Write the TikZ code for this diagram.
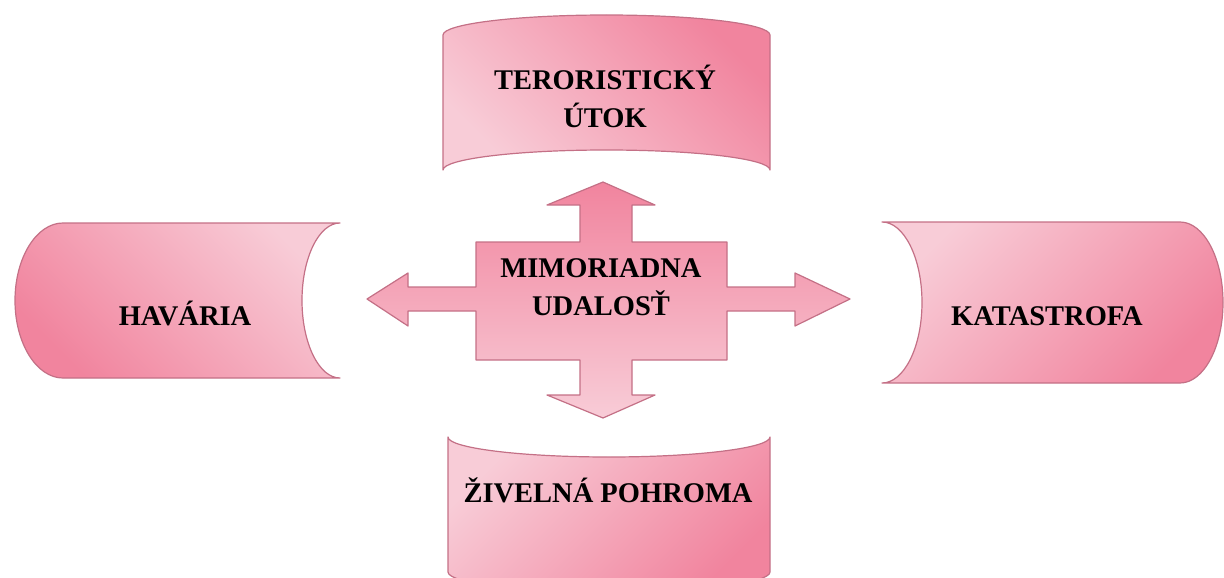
\documentclass[tikz,border=0pt]{standalone}
\usepackage{fontspec}
\setmainfont{Liberation Serif}
\definecolor{pkL}{RGB}{248,204,215}
\definecolor{pkM}{RGB}{245,170,188}
\definecolor{pkD}{RGB}{241,132,158}
\definecolor{pkEdge}{RGB}{196,112,134}
\tikzset{
  boxshape/.style={draw=pkEdge, line width=1.2pt, line join=round, shading=axis},
  lbl/.style={font=\bfseries\fontsize{28.5}{37.5}\selectfont, align=center, text=black, inner sep=0pt},
}
\begin{document}
\begin{tikzpicture}[x=1pt,y=-1pt]
\useasboundingbox (0,0) rectangle (1224,578);
% top box
\path[boxshape, top color=pkD, bottom color=pkL, shading angle=-45]
  (443,170) -- (443,35) .. controls (443,24) and (516.2,15) .. (606.5,15)
  .. controls (696.8,15) and (770,24) .. (770,35) -- (770,170)
  .. controls (770,159) and (696.8,150) .. (606.5,150)
  .. controls (516.2,150) and (443,159) .. (443,170) -- cycle;
% bottom box
\path[boxshape, top color=pkD, bottom color=pkL, shading angle=-135]
  (448,437) .. controls (448,448) and (520.1,457) .. (609,457)
  .. controls (697.9,457) and (770,448) .. (770,437) -- (770,572)
  .. controls (770,583) and (697.9,592) .. (609,592)
  .. controls (520.1,592) and (448,583) .. (448,572) -- cycle;
% left box
\path[boxshape, top color=pkD, bottom color=pkL, shading angle=135]
  (63,223) -- (340,223) .. controls (319,223) and (302,257.7) .. (302,300.5)
  .. controls (302,343.3) and (319,378) .. (340,378) -- (63,378)
  .. controls (36.5,378) and (15,343.3) .. (15,300.5)
  .. controls (15,257.7) and (36.5,223) .. (63,223) -- cycle;
% right box
\path[boxshape, top color=pkD, bottom color=pkL, shading angle=-135]
  (882,222) -- (1180,222) .. controls (1203.7,222) and (1223,258) .. (1223,302.5)
  .. controls (1223,347) and (1203.7,383) .. (1180,383) -- (882,383)
  .. controls (904,383) and (922,347) .. (922,302.5)
  .. controls (922,258) and (904,222) .. (882,222) -- cycle;
% centre quad arrow
\path[boxshape, top color=pkD, bottom color=pkL]
  (476,242) -- (580,242) -- (580,205) -- (547,205) -- (603,182) -- (655,205)
  -- (632,205) -- (632,242) -- (727,242) -- (727,287) -- (795,287) -- (795,273)
  -- (850,299) -- (795,326) -- (795,311) -- (727,311) -- (727,360) -- (632,360)
  -- (632,395) -- (655,395) -- (603,418) -- (547,395) -- (580,395) -- (580,360)
  -- (476,360) -- (476,311) -- (408,311) -- (408,326) -- (367,299) -- (408,273)
  -- (408,287) -- (476,287) -- cycle;
% labels
\node[lbl, anchor=base] (top) at (605,127) {TERORISTICKÝ\\ÚTOK};
\node[lbl, anchor=base] (mid) at (601,315) {MIMORIADNA\\UDALOSŤ};
\node[lbl, anchor=base] (left) at (185,325) {HAVÁRIA};
\node[lbl, anchor=base] (right) at (1047,325) {KATASTROFA};
\node[lbl, anchor=base] (bot) at (608,502) {ŽIVELNÁ POHROMA};
\end{tikzpicture}
\end{document}
